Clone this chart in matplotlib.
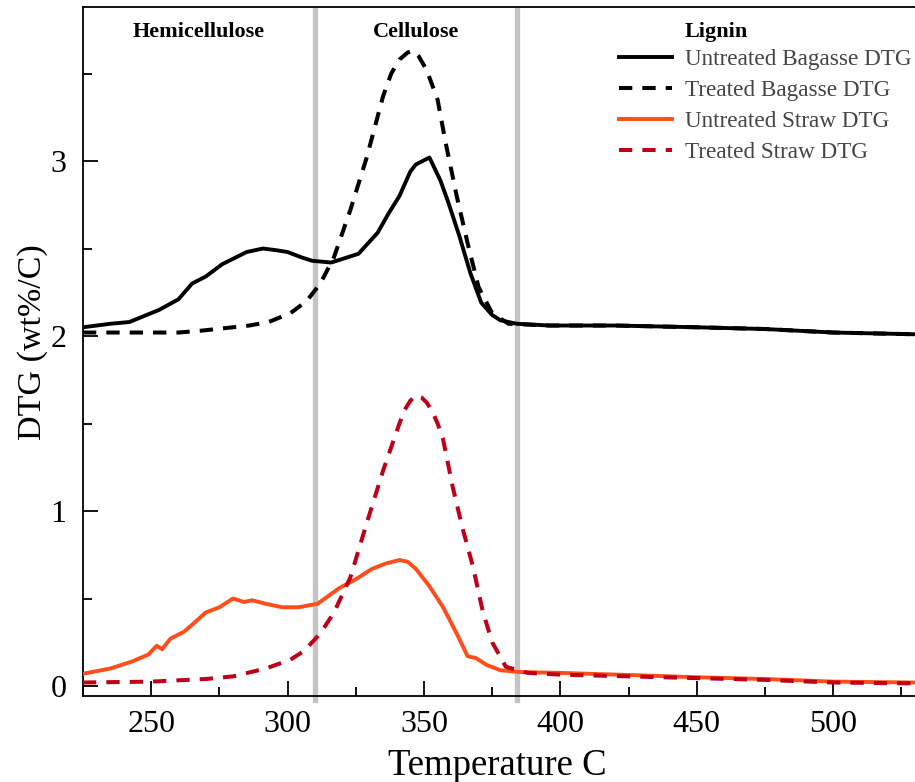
import matplotlib
matplotlib.use("Agg")
import matplotlib.pyplot as plt
from matplotlib.ticker import MultipleLocator

plt.rcParams["font.family"] = ["Liberation Serif", "DejaVu Serif"]

# untreated bagasse DTG
t_ub = [225, 235, 242, 253, 260, 265, 270, 276, 285, 291, 296, 300, 305, 309, 316, 320,
        326, 333, 337, 341, 345, 347, 352, 356, 359, 363, 367, 371, 375, 378, 384, 396,
        420, 450, 475, 500, 530]
y_ub = [2.05, 2.07, 2.08, 2.15, 2.21, 2.30, 2.34, 2.41, 2.48, 2.50, 2.49, 2.48, 2.45, 2.43,
        2.42, 2.44, 2.47, 2.59, 2.70, 2.80, 2.94, 2.98, 3.02, 2.89, 2.76, 2.57, 2.36, 2.19,
        2.12, 2.09, 2.07, 2.06, 2.06, 2.05, 2.04, 2.02, 2.01]

# treated bagasse DTG
t_tb = [225, 242, 260, 268, 280, 286, 293, 301, 307, 312, 317, 323, 329, 335, 338, 341,
        344, 346, 348, 351, 355, 358, 362, 366, 370, 375, 381, 396, 420, 450, 475, 500, 530]
y_tb = [2.02, 2.02, 2.02, 2.03, 2.05, 2.06, 2.08, 2.13, 2.20, 2.30, 2.45, 2.72, 3.02, 3.37,
        3.50, 3.58, 3.62, 3.63, 3.60, 3.52, 3.35, 3.10, 2.80, 2.53, 2.28, 2.13, 2.07, 2.06,
        2.06, 2.05, 2.04, 2.02, 2.01]

# untreated straw DTG
t_us = [225, 235, 243, 249, 252, 254, 257, 262, 265, 270, 275, 280, 284, 287, 292, 298,
        304, 311, 319, 325, 331, 336, 341, 344, 347, 352, 357, 362, 366, 369, 373, 378,
        385, 400, 425, 450, 475, 500, 530]
y_us = [0.07, 0.10, 0.14, 0.18, 0.23, 0.21, 0.27, 0.31, 0.35, 0.42, 0.45, 0.50, 0.48, 0.49,
        0.47, 0.45, 0.45, 0.47, 0.56, 0.61, 0.67, 0.70, 0.72, 0.71, 0.67, 0.57, 0.45, 0.30,
        0.17, 0.16, 0.12, 0.09, 0.08, 0.075, 0.063, 0.05, 0.04, 0.025, 0.02]

# treated straw DTG
t_ts = [225, 250, 270, 280, 292, 301, 306, 312, 317, 323, 329, 335, 341, 343, 345, 347,
        349, 351, 353, 355, 357, 360.5, 364, 368, 371.5, 375, 380, 388, 400, 425, 450,
        475, 500, 530]
y_ts = [0.02, 0.025, 0.04, 0.055, 0.10, 0.15, 0.20, 0.30, 0.42, 0.62, 0.93, 1.23, 1.50,
        1.58, 1.63, 1.66, 1.65, 1.62, 1.57, 1.50, 1.41, 1.14, 0.91, 0.68, 0.43, 0.25, 0.11,
        0.075, 0.065, 0.055, 0.045, 0.035, 0.02, 0.015]

boundaries = [310, 384]
regions = ["Hemicellulose", "Cellulose", "Lignin"]
region_x = [267.5, 347, 457]

fig = plt.figure(figsize=(9.15, 7.82), dpi=100)
ax = fig.add_axes([0.0907, 0.11, 0.9093, 0.881])

for b in boundaries:
    ax.axvline(b, ymin=-0.006, ymax=0.996, color="#c4c4c4", lw=3.8, clip_on=False, zorder=1)

dash = (0, (3.3, 2.5))
ax.plot(t_ub, y_ub, color="black", lw=2.8, label="Untreated Bagasse DTG", zorder=3)
ax.plot(t_tb, y_tb, color="black", lw=2.9, ls=dash, label="Treated Bagasse DTG", zorder=3)
ax.plot(t_us, y_us, color="#ff4d1a", lw=2.8, label="Untreated Straw DTG", zorder=3)
ax.plot(t_ts, y_ts, color="#c00018", lw=2.9, ls=dash, label="Treated Straw DTG", zorder=3)

for name, xc in zip(regions, region_x):
    ax.text(xc, 3.74, name, ha="center", va="center", fontsize=16, fontweight="bold")

ax.set_xlim(225, 530)
ax.set_ylim(-0.057, 3.88)
ax.xaxis.set_major_locator(MultipleLocator(50))
ax.xaxis.set_minor_locator(MultipleLocator(25))
ax.yaxis.set_major_locator(MultipleLocator(1))
ax.yaxis.set_minor_locator(MultipleLocator(0.5))
ax.tick_params(which="both", direction="in", width=1.3, labelsize=23, colors="black")
ax.tick_params(which="major", length=11)
ax.tick_params(which="minor", length=6.5)
ax.tick_params(axis="x", which="major", pad=10)
ax.tick_params(axis="y", which="major", pad=12)
ax.spines["right"].set_visible(False)
for s in ["left", "bottom", "top"]:
    ax.spines[s].set_linewidth(1.3)

ax.set_xlabel("Temperature C", fontsize=26.5)
ax.set_ylabel("DTG (wt%/C)", fontsize=24.5)
ax.xaxis.set_label_coords(0.498, -0.076)
ax.yaxis.set_label_coords(-0.042, 0.514)

leg = ax.legend(loc="upper left", bbox_to_anchor=(0.633, 0.953), frameon=False,
                fontsize=16.7, handlelength=2.3, handletextpad=0.55, labelspacing=0.42,
                borderaxespad=0)
for txt in leg.get_texts():
    txt.set_color("#444444")

fig.savefig("out.png", dpi=100)
